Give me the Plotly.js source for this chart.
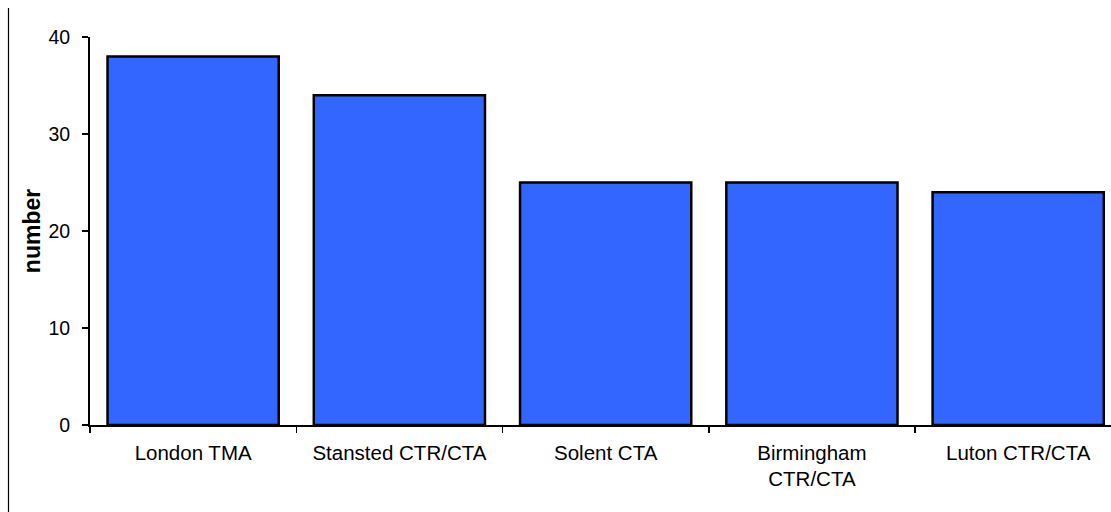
<!DOCTYPE html>
<html>
<head>
<meta charset="utf-8">
<script src="https://cdn.plot.ly/plotly-3.0.1.min.js"></script>
<style>html,body{margin:0;padding:0;background:#fff;}#chart{width:1111px;height:512px;}</style>
</head>
<body>
<div id="chart"></div>
<script>
const categories = ["London TMA", "Stansted CTR/CTA", "Solent CTA", "Birmingham<br>CTR/CTA", "Luton CTR/CTA"];
const values = [38, 34, 25, 25, 24];
const yTicks = [0, 10, 20, 30, 40];

const font = "Liberation Sans, Arial, sans-serif";
const trace = {
  type: "bar",
  x: categories,
  y: values,
  marker: {color: "#3366FF", line: {color: "#000000", width: 2.5}},
  width: 0.83,
  hoverinfo: "none"
};
const layout = {
  width: 1111, height: 512,
  margin: {l: 90, r: 0, t: 37, b: 87, pad: 0},
  paper_bgcolor: "#ffffff", plot_bgcolor: "#ffffff",
  showlegend: false,
  font: {family: font, size: 19, color: "#000"},
  xaxis: {
    type: "category",
    range: [-0.5, 4.45],
    showline: true, linecolor: "#000", linewidth: 2,
    ticks: "outside", ticklen: 6, tickwidth: 1.5, tickcolor: "#000",
    tickson: "boundaries",
    showgrid: false, zeroline: false,
    ticklabelstandoff: 8,
    tickfont: {family: font, size: 20.5, color: "#000"}
  },
  yaxis: {
    range: [0, 40],
    tickvals: yTicks,
    showline: true, linecolor: "#000", linewidth: 2,
    ticks: "outside", ticklen: 6, tickwidth: 1.5, tickcolor: "#000",
    showgrid: false, zeroline: false,
    ticklabelstandoff: 8,
    tickfont: {family: font, size: 19.5, color: "#000"},
    title: {text: "<b>number</b>", font: {family: font, size: 23, color: "#000"}, standoff: 1}
  },
  shapes: [{
    type: "line", xref: "paper", yref: "paper",
    x0: -81.5/1021, x1: -81.5/1021, y0: (425-8)/388, y1: -0.3,
    line: {color: "#000", width: 1.2}
  }]
};
Plotly.newPlot("chart", [trace], layout, {displayModeBar: false, staticPlot: true});
</script>
</body>
</html>
